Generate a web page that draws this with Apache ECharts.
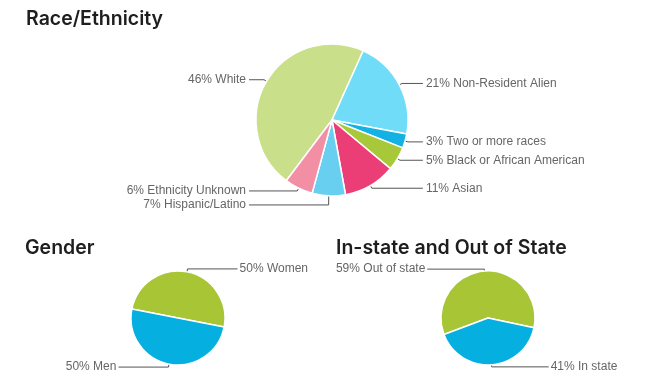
<!DOCTYPE html>
<html>
<head>
<meta charset="utf-8">
<script src="https://cdn.jsdelivr.net/npm/echarts@6/dist/echarts.min.js"></script>
<style>
html,body{margin:0;padding:0;background:#fff;}
#chart{width:647px;height:390px;}
</style>
</head>
<body>
<div id="chart"></div>
<script>
// ---- data ----
const raceNames = ['White', 'Non-Resident Alien', 'Two or more races', 'Black or African American', 'Asian', 'Hispanic/Latino', 'Ethnicity Unknown'];
const raceValues = [46, 21, 3, 5, 11, 7, 6];
const genderNames = ['Women', 'Men'];
const genderValues = [50, 50];
const stateNames = ['Out of state', 'In state'];
const stateValues = [59, 41];
const titles = ['Race/Ethnicity', 'Gender', 'In-state and Out of State'];

// ---- styles ----
const raceColors = ['#c9df8a', '#70dcf8', '#14b1e3', '#a6c839', '#ec3e76', '#68cff0', '#f38fa5'];
const twoColors = ['#a7c535', '#05b0e0'];

function toData(names, values, colors) {
  return names.map((n, i) => ({ name: n, value: values[i], itemStyle: { color: colors[i] } }));
}

const labelBase = {
  formatter: p => p.value + '% ' + p.name,
  color: '#666',
  fontFamily: '"Liberation Sans", Arial, sans-serif',
  fontSize: 12,
  distanceToLabelLine: 2
};
const lineBase = { lineStyle: { color: '#555', width: 1 }, smooth: false };
const itemBase = { borderColor: '#fff', borderWidth: 1.5 };

const chart = echarts.init(document.getElementById('chart'), null, { renderer: 'canvas' });
const titleStyle = { fontFamily: 'Inter, "Noto Sans", sans-serif', fontWeight: 600, fontSize: 19.5, color: '#1e1e1e' };

chart.setOption({
  animation: false,
  backgroundColor: '#fff',
  title: [
    { text: titles[0], left: 26, top: 9, padding: 0, textStyle: titleStyle },
    { text: titles[1], left: 25, top: 238, padding: 0, textStyle: titleStyle },
    { text: titles[2], left: 336, top: 238, padding: 0, textStyle: titleStyle }
  ],
  series: [
    {
      type: 'pie',
      center: [332, 120],
      radius: 76,
      startAngle: 233,
      clockwise: true,
      avoidLabelOverlap: true,
      data: toData(raceNames, raceValues, raceColors),
      itemStyle: itemBase,
      label: Object.assign({}, labelBase, { alignTo: 'labelLine', distanceToLabelLine: 3 }),
      labelLine: Object.assign({ length: 3, length2: 15 }, lineBase),
      emphasis: { disabled: true }
    },
    {
      type: 'pie',
      center: [178, 318],
      radius: 47,
      startAngle: 169,
      clockwise: true,
      data: toData(genderNames, genderValues, twoColors),
      itemStyle: itemBase,
      label: labelBase,
      labelLine: Object.assign({ length: 3, length2: 50 }, lineBase),
      emphasis: { disabled: true }
    },
    {
      type: 'pie',
      center: [488, 318],
      radius: 47,
      startAngle: 200.5,
      clockwise: true,
      data: toData(stateNames, stateValues, twoColors),
      itemStyle: itemBase,
      label: labelBase,
      labelLine: Object.assign({ length: 2, length2: 57 }, lineBase),
      emphasis: { disabled: true }
    }
  ]
});
</script>
</body>
</html>
